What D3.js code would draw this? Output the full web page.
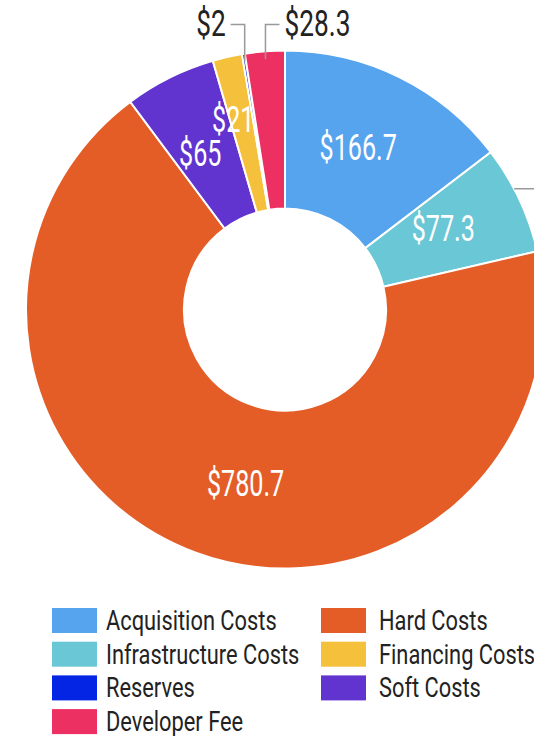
<!DOCTYPE html>
<html>
<head>
<meta charset="utf-8">
<script src="https://cdn.jsdelivr.net/npm/d3@7"></script>
<style>
  body { margin: 0; background: #fff; }
  text { font-family: Roboto, "Noto Sans", sans-serif; }
</style>
</head>
<body>
<script>
// Chart data (millions), clockwise from 12 o'clock
var sliceNames = ["Acquisition Costs", "Infrastructure Costs", "Hard Costs", "Soft Costs", "Financing Costs", "Reserves", "Developer Fee"];
var sliceValues = [166.7, 77.3, 780.7, 65, 21, 2, 28.3];
var sliceColors = ["#56a3ee", "#6ac7d5", "#e45d27", "#6134d0", "#f5c13c", "#0425e3", "#ec3062"];

// legend order (two columns, filled row by row)
var legendNames = ["Acquisition Costs", "Hard Costs", "Infrastructure Costs", "Financing Costs", "Reserves", "Soft Costs", "Developer Fee"];

window.onload = start;

function start() {
    var width = 534;
    var height = 736;
    var cx = 285, cy = 309.5;
    var outerR = 259, innerR = 101;

    var color = d3.scaleOrdinal().domain(sliceNames).range(sliceColors);

    var svg = d3.select("body").append("svg")
        .attr("width", width)
        .attr("height", height);

    var pie = d3.pie().sort(null).value(function(d) { return d.value; });
    var data = sliceNames.map(function(n, i) { return {name: n, value: sliceValues[i]}; });
    var arcs = pie(data);

    var arc = d3.arc().innerRadius(innerR).outerRadius(outerR);

    var g = svg.append("g").attr("transform", "translate(" + cx + "," + cy + ")");

    g.selectAll("path")
        .data(arcs)
        .enter()
        .append("path")
        .attr("d", arc)
        .attr("fill", function(d) { return color(d.data.name); })
        .attr("stroke", "#fff")
        .attr("stroke-width", 2);

    // inside labels (small slices get labels outside)
    var nudge = {"Financing Costs": [-6, -18], "Hard Costs": [16, 4]};
    var outside = ["Reserves", "Developer Fee"];

    function midAngle(d) { return (d.startAngle + d.endAngle) / 2; }

    // labels sit a little counter-clockwise of the centroid
    function labelPos(d) {
        var a = midAngle(d) - 0.035;
        var r = (innerR + outerR) / 2 - 2;
        return [Math.sin(a) * r, -Math.cos(a) * r];
    }

    var inner = arcs.filter(function(d) { return outside.indexOf(d.data.name) < 0; });
    g.selectAll("text.inlabel")
        .data(inner)
        .enter()
        .append("text")
        .attr("class", "inlabel")
        .attr("transform", function(d) {
            var c = labelPos(d);
            var n = nudge[d.data.name] || [0, 0];
            return "translate(" + (c[0] + n[0]) + "," + (c[1] + n[1] + 13) + ") scale(0.68,1)";
        })
        .attr("text-anchor", "middle")
        .attr("fill", "#fff")
        .attr("font-size", 37)
        .text(function(d) { return "$" + d.data.value; });

    // outside labels with elbow leader lines
    var elbowY = -outerR - 26;
    var outer = arcs.filter(function(d) { return outside.indexOf(d.data.name) >= 0; });
    outer.forEach(function(d) {
        var a = midAngle(d);
        var r0 = outerR - 8;
        var x0 = Math.sin(a) * r0, y0 = -Math.cos(a) * r0;
        var dir = d.data.name === "Developer Fee" ? 1 : -1;
        var x1 = x0 + dir * 14;
        g.append("path")
            .attr("d", "M" + x0 + "," + y0 + "V" + elbowY + "H" + x1)
            .attr("fill", "none")
            .attr("stroke", "#999")
            .attr("stroke-width", 1.5);
        g.append("text")
            .attr("transform", "translate(" + (x1 + dir * 5) + "," + (elbowY + 11) + ") scale(0.71,1)")
            .attr("text-anchor", dir > 0 ? "start" : "end")
            .attr("fill", "#222")
            .attr("font-size", 37)
            .text("$" + d.data.value);
    });

    // leader toward the right edge from Infrastructure slice
    var infra = arcs[1];
    var ay = -Math.cos(midAngle(infra) - 0.045) * outerR;
    var ax = Math.sqrt(outerR * outerR - ay * ay);
    g.append("line")
        .attr("x1", ax).attr("y1", ay)
        .attr("x2", width - cx + 10).attr("y2", ay)
        .attr("stroke", "#999")
        .attr("stroke-width", 1.5);

    // Legend
    var legend = svg.append("g").attr("transform", "translate(52,608)");
    var item = legend.selectAll("g")
        .data(legendNames)
        .enter()
        .append("g")
        .attr("transform", function(d, i) {
            return "translate(" + ((i % 2) * 269) + "," + (Math.floor(i / 2) * 33.7) + ")";
        });
    item.append("rect")
        .attr("width", 45)
        .attr("height", 25)
        .attr("fill", function(d) { return color(d); });
    item.append("text")
        .attr("transform", function(d, i) {
            return "translate(" + (54 + (i % 2) * 4) + ",22) scale(0.78,1)";
        })
        .attr("fill", "#222")
        .attr("font-size", 28)
        .text(function(d) { return d; });
}
</script>
</body>
</html>
